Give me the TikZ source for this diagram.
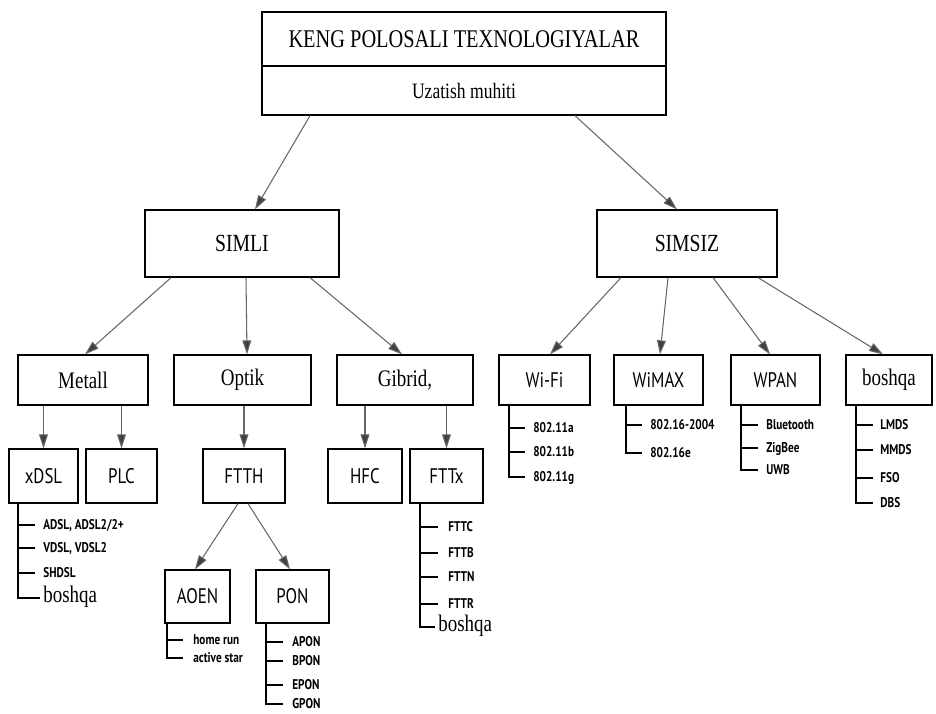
\documentclass[tikz,border=0pt]{standalone}
\usepackage{fontspec}
\setmainfont{Liberation Serif}
\newfontfamily\sercond[FakeStretch=0.8]{Liberation Serif}
\newfontfamily\dincond[FakeStretch=0.8]{PT Sans}
\usetikzlibrary{arrows.meta,calc}

\begin{document}
\begin{tikzpicture}[x=0.02cm, y=-0.02cm,
    box/.style={draw, line width=0.7pt, inner sep=0pt},
    sbox/.style={box, font=\sercond\fontsize{13.5}{15}\selectfont},
    dbox/.style={box, font=\dincond\fontsize{12}{14}\selectfont},
    arr/.style={draw=black!60, line width=0.6pt, -{Triangle[length=8pt, width=5pt, fill=black!75]}},
    list/.style={line width=0.7pt},
    item/.style={anchor=west, inner sep=0pt, text height=1.4ex, text depth=0.3ex, font=\dincond\bfseries\fontsize{8}{9}\selectfont},
    itemb/.style={anchor=west, inner sep=0pt, text height=1.4ex, text depth=0.4ex, font=\sercond\fontsize{13.5}{15}\selectfont}]
    \useasboundingbox (0, 0) rectangle (936, 713);

    % 箱を置く
    \node[sbox, minimum width=8.08cm, minimum height=1.08cm, font=\sercond\fontsize{14.5}{16}\selectfont] (TOP) at (464, 39) {KENG POLOSALI TEXNOLOGIYALAR};
    \node[sbox, minimum width=8.08cm, minimum height=0.98cm, font=\sercond\fontsize{12.5}{14}\selectfont] (UZ) at (464, 90.5) {Uzatish muhiti};

    \node[sbox, minimum width=3.88cm, minimum height=1.34cm, font=\sercond\fontsize{14}{16}\selectfont] (SIMLI) at (242, 243.5) {SIMLI};
    \node[sbox, minimum width=3.6cm, minimum height=1.34cm, font=\sercond\fontsize{14}{16}\selectfont] (SIMSIZ) at (687, 243.5) {SIMSIZ};

    \node[sbox, minimum width=2.6cm, minimum height=1cm] (MET) at (83, 380) {Metall};
    \node[sbox, minimum width=2.74cm, minimum height=1cm] (OPT) at (242.5, 380) {Optik};
    \node[sbox, minimum width=2.72cm, minimum height=1cm] (GIB) at (405, 380) {Gibrid,};
    \node[dbox, minimum width=1.82cm, minimum height=1cm] (WIFI) at (544.5, 380) {Wi-Fi};
    \node[dbox, minimum width=1.78cm, minimum height=1cm] (WIMAX) at (658.5, 380) {WiMAX};
    \node[dbox, minimum width=1.78cm, minimum height=1cm] (WPAN) at (775.5, 380) {WPAN};
    \node[sbox, minimum width=1.72cm, minimum height=1cm] (BOSH) at (889, 380) {boshqa};

    \node[dbox, minimum width=1.38cm, minimum height=1.08cm] (XDSL) at (43.5, 476) {xDSL};
    \node[dbox, minimum width=1.42cm, minimum height=1.08cm] (PLC) at (121.5, 476) {PLC};
    \node[dbox, minimum width=1.64cm, minimum height=1.08cm] (FTTH) at (244, 476) {FTTH};
    \node[dbox, minimum width=1.48cm, minimum height=1.08cm] (HFC) at (365, 476) {HFC};
    \node[dbox, minimum width=1.46cm, minimum height=1.08cm] (FTTX) at (446.5, 476) {FTTx};

    \node[dbox, minimum width=1.3cm, minimum height=1.06cm] (AOEN) at (197.5, 596.5) {AOEN};
    \node[dbox, minimum width=1.46cm, minimum height=1.06cm] (PON) at (292.5, 596.5) {PON};

    % 矢印を引く
    \draw[arr] ([xshift=-3.08cm]UZ.south) -- ([xshift=0.26cm]SIMLI.north);
    \draw[arr] ([xshift=2.22cm]UZ.south) -- ([xshift=-0.2cm]SIMSIZ.north);

    \draw[arr] ([xshift=-1.42cm]SIMLI.south) -- ([xshift=0.04cm]MET.north);
    \draw[arr] ([xshift=0.08cm]SIMLI.south) -- ([xshift=0.09cm]OPT.north);
    \draw[arr] ([xshift=1.36cm]SIMLI.south) -- ([xshift=-0.06cm]GIB.north);

    \draw[arr] ([xshift=-1.32cm]SIMSIZ.south) -- ([xshift=0.11cm]WIFI.north);
    \draw[arr] ([xshift=-0.38cm]SIMSIZ.south) -- ([xshift=0.03cm]WIMAX.north);
    \draw[arr] ([xshift=0.52cm]SIMSIZ.south) -- ([xshift=-0.11cm]WPAN.north);
    \draw[arr] ([xshift=1.42cm]SIMSIZ.south) -- ([xshift=-0.12cm]BOSH.north);

    \draw[arr] (XDSL.north |- MET.south) -- (XDSL.north);
    \draw[arr] (PLC.north |- MET.south) -- (PLC.north);
    \draw[arr] (FTTH.north |- OPT.south) -- (FTTH.north);
    \draw[arr] (HFC.north |- GIB.south) -- (HFC.north);
    \draw[arr] (FTTX.north |- GIB.south) -- (FTTX.north);

    \draw[arr] ([xshift=-0.12cm]FTTH.south) -- ([xshift=-0.05cm]AOEN.north);
    \draw[arr] ([xshift=0.08cm]FTTH.south) -- ([xshift=-0.05cm]PON.north);

    % 下の項目
    \coordinate (XL) at (18, 503);
    \node[item] (X1) at (43, 525) {ADSL, ADSL2/2+};
    \node[item] (X2) at (43, 548) {VDSL, VDSL2};
    \node[item] (X3) at (43, 573) {SHDSL};
    \node[itemb] (X4) at (43, 598) {boshqa};
    \draw[list] (XL) -- (XL |- X4.west) -- ([xshift=-0.06cm]X4.west);
    \draw[list] (XL |- X1.west) -- ([xshift=-0.16cm]X1.west);
    \draw[list] (XL |- X2.west) -- ([xshift=-0.16cm]X2.west);
    \draw[list] (XL |- X3.west) -- ([xshift=-0.16cm]X3.west);

    \coordinate (FL) at (420, 503);
    \node[item] (F1) at (448, 527) {FTTC};
    \node[item] (F2) at (448, 553) {FTTB};
    \node[item] (F3) at (448, 577) {FTTN};
    \node[item] (F4) at (448, 604) {FTTR};
    \node[itemb] (F5) at (438, 627) {boshqa};
    \draw[list] (FL) -- (FL |- F5.west) -- ([xshift=-0.06cm]F5.west);
    \draw[list] (FL |- F1.west) -- ([xshift=-0.2cm]F1.west);
    \draw[list] (FL |- F2.west) -- ([xshift=-0.2cm]F2.west);
    \draw[list] (FL |- F3.west) -- ([xshift=-0.2cm]F3.west);
    \draw[list] (FL |- F4.west) -- ([xshift=-0.2cm]F4.west);

    \coordinate (AL) at (167, 623);
    \node[item] (A1) at (193, 640) {home run};
    \node[item] (A2) at (193, 658) {active star};
    \draw[list] (AL) -- (AL |- A2.west) -- ([xshift=-0.2cm]A2.west);
    \draw[list] (AL |- A1.west) -- ([xshift=-0.2cm]A1.west);

    \coordinate (PL) at (266, 623);
    \node[item] (P1) at (292, 642) {APON};
    \node[item] (P2) at (292, 661) {BPON};
    \node[item] (P3) at (292, 685) {EPON};
    \node[item] (P4) at (292, 704) {GPON};
    \draw[list] (PL) -- (PL |- P4.west) -- ([xshift=-0.18cm]P4.west);
    \draw[list] (PL |- P1.west) -- ([xshift=-0.18cm]P1.west);
    \draw[list] (PL |- P2.west) -- ([xshift=-0.18cm]P2.west);
    \draw[list] (PL |- P3.west) -- ([xshift=-0.18cm]P3.west);

    \coordinate (WL) at (509, 405);
    \node[item] (W1) at (533, 428) {802.11a};
    \node[item] (W2) at (533, 452) {802.11b};
    \node[item] (W3) at (533, 477) {802.11g};
    \draw[list] (WL) -- (WL |- W3.west) -- ([xshift=-0.16cm]W3.west);
    \draw[list] (WL |- W1.west) -- ([xshift=-0.16cm]W1.west);
    \draw[list] (WL |- W2.west) -- ([xshift=-0.16cm]W2.west);

    \coordinate (ML) at (626, 405);
    \node[item] (M1) at (650, 425) {802.16-2004};
    \node[item] (M2) at (650, 453) {802.16e};
    \draw[list] (ML) -- (ML |- M2.west) -- ([xshift=-0.16cm]M2.west);
    \draw[list] (ML |- M1.west) -- ([xshift=-0.16cm]M1.west);

    \coordinate (NL) at (741, 405);
    \node[item] (N1) at (766, 425) {Bluetooth};
    \node[item] (N2) at (766, 448) {ZigBee};
    \node[item] (N3) at (766, 470) {UWB};
    \draw[list] (NL) -- (NL |- N3.west) -- ([xshift=-0.16cm]N3.west);
    \draw[list] (NL |- N1.west) -- ([xshift=-0.16cm]N1.west);
    \draw[list] (NL |- N2.west) -- ([xshift=-0.16cm]N2.west);

    \coordinate (BL) at (856, 405);
    \node[item] (B1) at (880, 425) {LMDS};
    \node[item] (B2) at (880, 450) {MMDS};
    \node[item] (B3) at (880, 478) {FSO};
    \node[item] (B4) at (880, 503) {DBS};
    \draw[list] (BL) -- (BL |- B4.west) -- ([xshift=-0.14cm]B4.west);
    \draw[list] (BL |- B1.west) -- ([xshift=-0.14cm]B1.west);
    \draw[list] (BL |- B2.west) -- ([xshift=-0.14cm]B2.west);
    \draw[list] (BL |- B3.west) -- ([xshift=-0.14cm]B3.west);

  \end{tikzpicture}
\end{document}
